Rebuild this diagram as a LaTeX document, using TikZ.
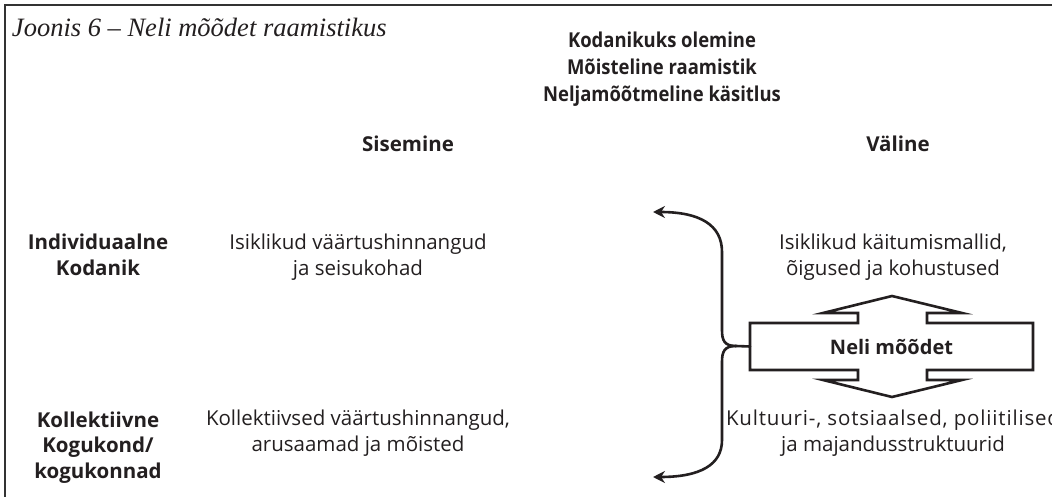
\documentclass[tikz,border=0pt]{standalone}
\usepackage{fontspec}
\setmainfont{Open Sans}
\newfontfamily\titlefont{Liberation Serif}
\newfontfamily\condfont[FakeStretch=0.9]{Open Sans}
\usetikzlibrary{arrows.meta}
\definecolor{ink}{HTML}{231F20}
\begin{document}
\begin{tikzpicture}[x=1pt,y=-1pt,
  every node/.style={inner sep=0pt, outer sep=0pt, text=ink},
  regtxt/.style={align=center, anchor=base, font=\fontsize{20.5}{25.5}\selectfont},
  boldtxt/.style={align=center, anchor=base, font=\fontsize{20.5}{25.5}\selectfont\bfseries},
  headtxt/.style={align=center, anchor=base, font=\condfont\fontsize{20.5}{27}\selectfont\bfseries},
  framestyle/.style={draw=black!80, line width=1.6pt},
  bracestyle/.style={draw=ink, line width=2.6pt, line cap=round},
  shapestyle/.style={draw=ink, line width=2.6pt, line join=miter},
  tipstyle/.style={-{Stealth[length=12pt,width=12pt,inset=4pt]}}
  ]
\useasboundingbox (0,0) rectangle (1052,497);
\clip (0,0) rectangle (1052,497);
\fill[white] (0,0) rectangle (1052,497);
\draw[framestyle] (5,500) -- (5,5) -- (1060,5);

\node[anchor=base west, font=\titlefont\itshape\fontsize{26.5}{26.5}\selectfont] (title) at (12,37) {Joonis 6 – Neli mõõdet raamistikus};

\node[headtxt] (head) at (662,102) {Kodanikuks olemine\\ Mõisteline raamistik\\ Neljamõõtmeline käsitlus};

\node[boldtxt] (sis) at (408,152) {Sisemine};
\node[boldtxt] (val) at (898,152) {Väline};

\node[boldtxt] (ind) at (98,275) {Individuaalne\\Kodanik};
\node[regtxt] (isv) at (358,275) {Isiklikud väärtushinnangud\\ja seisukohad};
\node[regtxt] (isk) at (893,275) {Isiklikud käitumismallid,\\õigused ja kohustused};

\node[boldtxt] (kol) at (98,478) {Kollektiivne\\Kogukond/\\kogukonnad};
\node[regtxt] (kov) at (358,451) {Kollektiivsed väärtushinnangud,\\arusaamad ja mõisted};
\node[regtxt] (kul) at (893,451) {{\addfontfeature{LetterSpace=4}Kultuuri-, sotsiaalsed, poliitilised}\\ja majandusstruktuurid};

% double arrow shape
\node[minimum width=283pt, minimum height=47pt, font=\fontsize{20}{22}\selectfont\bfseries] (neli) at (891.5,346.5) {Neli mõõdet};
\draw[shapestyle]
  (neli.north west) -- (858,323) -- (858,313) -- (823,313) -- (892,296) -- (962,313)
  -- (927,313) -- (927,323) -- (neli.north east) -- (neli.south east)
  -- (927,370) -- (927,380) -- (962,380) -- (892,397) -- (823,380) -- (858,380)
  -- (858,370) -- (neli.south west) -- cycle;

% brace
\coordinate (tipT) at (653,212);
\coordinate (tipB) at (653,477);
\coordinate (mid) at (736,346);
\draw[bracestyle, tipstyle] (mid) .. controls (724,346) and (722,340) .. (722,330)
  -- (722,252) .. controls (722,225) and (700,212) .. (tipT);
\draw[bracestyle, tipstyle] (mid) .. controls (724,346) and (722,352) .. (722,362)
  -- (722,440) .. controls (722,465) and (700,477) .. (tipB);
\draw[bracestyle] (mid) -- (neli.west);
\end{tikzpicture}
\end{document}
